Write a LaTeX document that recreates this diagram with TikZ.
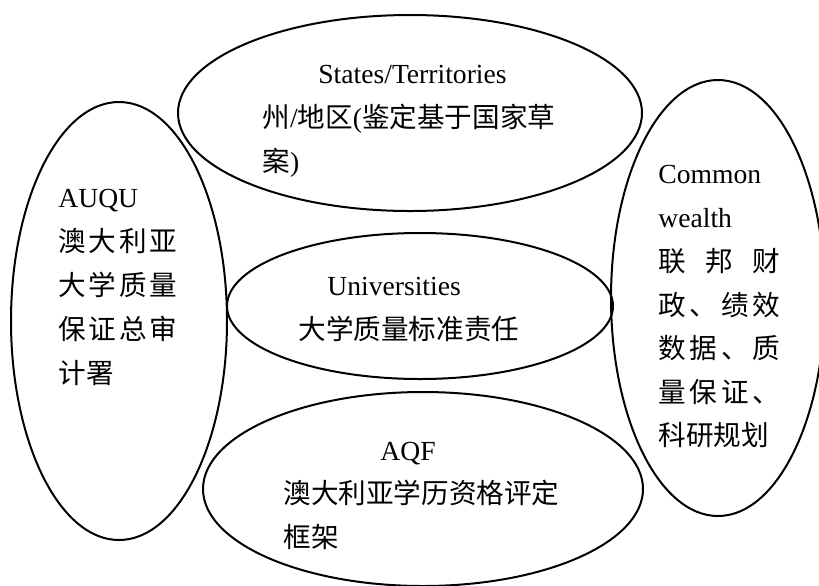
\documentclass[tikz,border=0pt]{standalone}
\usepackage{fontspec}
\setmainfont{Liberation Serif}
\newfontfamily\zhfont{Noto Sans CJK SC}
\usetikzlibrary{shapes.geometric}
\newcommand{\zh}[1]{{\zhfont #1}}
\newcommand{\zhjust}[2]{\makebox[#1][s]{\zhfont #2}}

\begin{document}
\begin{tikzpicture}[x=0.5pt,y=-0.5pt,
    bubble/.style={draw, ellipse, line width=1pt, inner sep=0pt},
    lbl/.style={anchor=base west, inner sep=0pt, font=\fontsize{13.8}{22}\selectfont}]
    \useasboundingbox (0,0) rectangle (819,585);
    % the five ellipses
    \node[bubble, minimum width=232pt, minimum height=98pt] (states) at (410,113) {};
    \node[bubble, minimum width=108pt, minimum height=219pt] (auqu) at (119,321) {};
    \node[bubble, minimum width=107pt, minimum height=218pt] (cwlth) at (718,298) {};
    \node[bubble, minimum width=193pt, minimum height=73pt] (unis) at (420,306) {};
    \node[bubble, minimum width=220pt, minimum height=97pt] (aqf) at (423,489) {};
    % States/Territories
    \node[lbl] (statesA) at (318,83) {States/Territories};
    \node[lbl] (statesB) at (262,127) {\zh{州}/\zh{地区}(\zh{鉴定基于国家草}};
    \node[lbl] (statesC) at (262,171) {\zh{案})};
    % AUQU
    \node[lbl] (auquA) at (58,207) {AUQU};
    \node[lbl] (auquB) at (58,251) {\zhjust{59.5pt}{澳\hfill 大\hfill 利\hfill 亚}};
    \node[lbl] (auquC) at (58,295) {\zhjust{59.5pt}{大\hfill 学\hfill 质\hfill 量}};
    \node[lbl] (auquD) at (58,339) {\zhjust{59.5pt}{保\hfill 证\hfill 总\hfill 审}};
    \node[lbl] (auquE) at (58,383) {\zh{计署}};
    % Commonwealth
    \node[lbl] (cwlthA) at (658,183) {Common};
    \node[lbl] (cwlthB) at (658,227) {wealth};
    \node[lbl] (cwlthC) at (658,271) {\zhjust{61pt}{联\hfill 邦\hfill 财}};
    \node[lbl] (cwlthD) at (658,315) {\zhjust{61pt}{政\hfill 、\hfill 绩\hfill 效}};
    \node[lbl] (cwlthE) at (658,358) {\zhjust{61pt}{数\hfill 据\hfill 、\hfill 质}};
    \node[lbl] (cwlthF) at (658,402) {\zhjust{61pt}{量\hfill 保\hfill 证\hfill 、}};
    \node[lbl] (cwlthG) at (658,445) {\zh{科研规划}};
    % Universities
    \node[lbl] (unisA) at (327,295) {Universities};
    \node[lbl] (unisB) at (298,339) {\zh{大学质量标准责任}};
    % AQF
    \node[lbl] (aqfA) at (380,460) {AQF};
    \node[lbl] (aqfB) at (283,503) {\zh{澳大利亚学历资格评定}};
    \node[lbl] (aqfC) at (283,547) {\zh{框架}};
\end{tikzpicture}
\end{document}
